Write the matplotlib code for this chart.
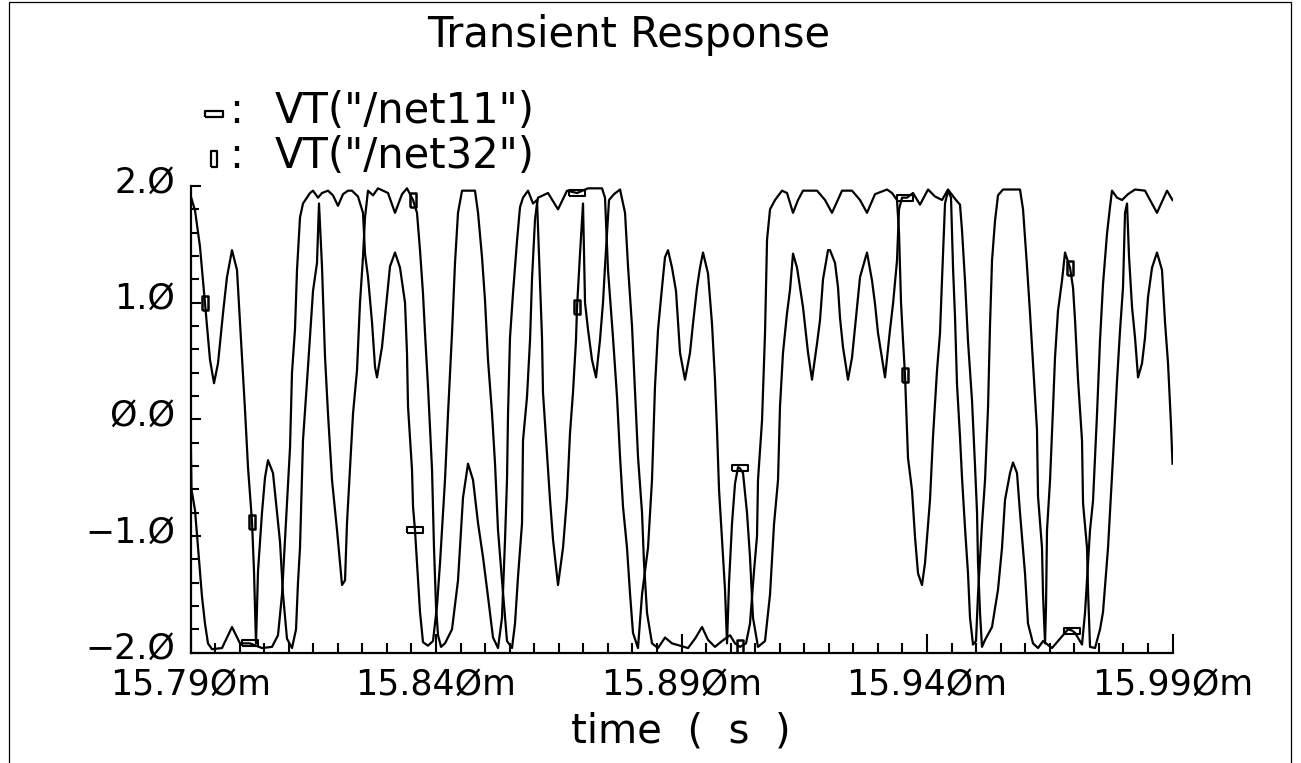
import matplotlib
matplotlib.use("Agg")
import matplotlib.pyplot as plt
import matplotlib.transforms as mtransforms
from matplotlib.lines import Line2D
from matplotlib.patches import Rectangle
from matplotlib.ticker import MultipleLocator, FixedLocator, FuncFormatter

# time in microseconds after 15.790 ms, voltage in V
net11_t = [0.0, 0.2, 0.92, 1.53, 2.34, 2.95, 3.56, 4.38, 6.42, 7.43, 8.45, 9.27, 10.08, 12.12, 14.56,
           16.60, 17.82, 18.64, 19.25, 20.27, 20.67, 21.28, 21.69, 22.30, 22.91, 24.34, 24.95, 25.97,
           26.78, 28.00, 29.02, 30.04, 31.06, 32.08, 32.89, 34.11, 35.13, 35.54, 36.15, 36.97, 37.58,
           37.98, 39.00, 40.02, 40.63, 41.65, 42.67, 43.69, 44.09, 44.30, 45.11, 45.32, 45.72, 46.13,
           46.74, 47.35, 48.37, 49.39, 50.20, 50.82, 51.83, 52.45, 53.26, 53.87, 54.48, 55.30, 57.94,
           58.56, 59.37, 59.98, 60.59, 61.41, 62.02, 62.63, 63.44, 64.46, 65.48, 66.09, 66.70, 67.52,
           67.72, 68.53, 69.15, 69.55, 70.16, 70.57, 70.78, 72.81, 74.85, 76.68, 78.72, 80.96, 83.81,
           84.42, 85.03, 86.05, 86.87, 87.48, 88.09, 88.90, 89.51, 90.12, 91.14, 91.96, 93.18, 93.99,
           94.60, 95.22, 96.03, 96.64, 97.25, 98.07, 98.88, 99.70, 100.71, 101.73, 102.34, 103.16,
           103.77, 104.38, 105.40, 106.21, 106.82, 107.23, 107.64, 108.25, 108.86, 109.27, 109.68,
           110.29, 110.90, 111.51, 111.92, 112.53, 113.34, 113.95, 114.56, 115.58, 117.01, 118.03,
           118.84, 119.66, 120.06, 120.67, 121.49, 122.10, 122.71, 123.53, 124.14, 124.75, 125.77,
           126.58, 127.60, 128.21, 128.82, 129.84, 130.25, 131.27, 131.88, 132.28, 132.89, 133.91,
           134.73, 135.75, 136.36, 137.78, 138.80, 139.41, 140.02, 141.45, 142.47, 143.08, 143.89,
           144.30, 144.91, 145.52, 145.93, 147.15, 148.58, 150.21, 151.63, 153.06, 154.28, 155.71,
           156.72, 157.13, 157.74, 158.35, 159.17, 159.78, 160.19, 160.39, 160.80, 161.20, 161.82,
           163.24, 164.46, 165.28, 165.89, 166.91, 167.52, 168.33, 168.94, 169.96, 170.57, 171.59,
           172.61, 173.63, 175.46, 177.09, 178.72, 179.54, 180.15, 181.57, 182.18, 183.20, 183.81,
           184.63, 185.24, 185.85, 186.66, 187.27, 187.68, 188.70, 189.72, 190.94, 192.37, 194.40,
           196.84, 198.88, 200.0]
net11_v = [0.00, -0.60, -0.78, -1.10, -1.52, -1.75, -1.92, -1.97, -1.96, -1.87, -1.78, -1.85, -1.92,
           -1.92, -1.96, -1.95, -1.85, -1.50, -1.03, -0.24, 0.40, 0.77, 1.28, 1.73, 1.85, 1.94, 1.96,
           1.90, 1.94, 1.96, 1.92, 1.83, 1.93, 1.96, 1.96, 1.91, 1.77, 1.42, 1.22, 0.83, 0.45, 0.36,
           0.62, 1.05, 1.31, 1.43, 1.30, 1.00, 0.57, 0.11, -0.43, -0.75, -0.95, -1.23, -1.65, -1.91,
           -1.94, -1.90, -1.60, -1.23, -0.52, 0.05, 0.74, 1.34, 1.77, 1.96, 1.96, 1.77, 1.39, 1.02,
           0.51, 0.05, -0.38, -0.95, -1.38, -1.90, -1.96, -1.75, -1.35, -0.89, -0.18, 0.19, 0.68,
           1.20, 1.71, 1.85, 1.90, 1.94, 1.80, 1.96, 1.94, 1.98, 1.98, 1.90, 1.28, 0.70, 0.19, -0.32,
           -0.75, -1.10, -1.49, -1.83, -1.96, -1.50, -1.10, -0.52, 0.28, 0.77, 1.13, 1.39, 1.45, 1.30,
           1.10, 0.57, 0.34, 0.57, 0.82, 1.13, 1.30, 1.43, 1.25, 0.82, 0.34, -0.09, -0.60, -1.03,
           -1.46, -1.92, -1.40, -0.89, -0.55, -0.41, -0.42, -0.46, -0.80, -1.18, -1.70, -1.95, -1.90,
           -1.50, -0.90, -0.52, 0.11, 0.57, 0.91, 1.11, 1.42, 1.30, 1.13, 0.96, 0.57, 0.34, 0.65, 0.85,
           1.20, 1.45, 1.45, 1.34, 1.13, 0.87, 0.62, 0.34, 0.53, 0.96, 1.22, 1.43, 1.19, 0.99, 0.74,
           0.36, 0.77, 0.99, 1.36, 1.80, 1.90, 1.90, 1.90, 1.94, 1.84, 1.97, 1.91, 1.88, 1.97, 1.89,
           1.84, 1.62, 1.19, 0.67, 0.16, -0.40, -0.80, -1.23, -1.66, -1.95, -1.89, -1.78, -1.46, -1.10,
           -0.69, -0.46, -0.37, -0.46, -0.80, -1.32, -1.75, -1.92, -1.96, -1.90, -1.96, -1.88, -1.80,
           -1.81, -1.83, -1.93, -1.66, -0.95, -0.70, 0.05, 0.68, 1.16, 1.59, 1.82, 1.96, 1.90, 1.88,
           1.93, 1.97, 1.96, 1.77, 1.96, 1.88]

net32_t = [0.0, 0.92, 1.93, 2.95, 3.97, 4.79, 5.60, 6.62, 7.43, 8.45, 9.47, 10.08, 11.10, 11.71, 12.53,
           12.93, 13.34, 13.75, 14.56, 15.17, 15.78, 16.80, 17.62, 18.23, 18.84, 19.65, 20.67, 21.49,
           21.89, 22.30, 22.91, 23.93, 24.95, 25.76, 26.17, 26.78, 27.39, 28.00, 28.82, 29.84, 30.86,
           31.47, 31.87, 32.49, 33.10, 33.91, 34.52, 35.13, 35.54, 36.15, 37.17, 38.19, 40.22, 41.65,
           43.08, 44.09, 45.32, 46.13, 46.74, 47.35, 47.76, 48.37, 49.19, 49.59, 50.00, 50.41, 51.02,
           51.83, 53.26, 54.48, 55.50, 56.52, 57.54, 58.56, 59.57, 60.59, 61.61, 62.63, 63.44, 64.05,
           64.46, 64.67, 65.07, 65.68, 66.50, 67.11, 67.72, 68.74, 69.76, 70.57, 70.98, 71.59, 71.79,
           72.61, 73.22, 73.83, 74.85, 75.87, 76.68, 77.29, 77.90, 78.51, 78.72, 79.33, 79.94, 80.35,
           80.96, 81.77, 82.59, 83.40, 84.01, 84.42, 84.83, 85.24, 86.25, 87.48, 88.50, 89.11, 89.92,
           90.53, 91.14, 91.96, 92.36, 92.98, 93.99, 95.22, 96.64, 98.07, 101.33, 102.75, 104.18,
           105.40, 106.82, 108.25, 109.88, 110.90, 111.92, 113.14, 113.95, 114.77, 115.38, 115.58,
           116.40, 117.01, 117.42, 118.03, 119.05, 120.47, 121.49, 122.71, 123.73, 124.75, 127.60,
           129.23, 130.65, 132.69, 134.73, 136.36, 137.78, 139.41, 141.86, 142.87, 143.89, 144.30,
           144.71, 145.11, 145.52, 146.13, 146.95, 147.56, 148.17, 148.98, 149.60, 150.61, 151.22,
           152.04, 152.65, 153.06, 153.67, 154.28, 154.89, 155.30, 155.71, 156.11, 156.72, 157.13,
           157.74, 158.35, 158.76, 159.37, 159.98, 160.39, 161.20, 161.82, 162.43, 162.83, 163.24,
           163.85, 164.46, 165.48, 168.94, 169.56, 170.37, 170.98, 171.59, 172.40, 172.61, 173.42,
           173.63, 174.04, 174.24, 174.44, 175.06, 175.67, 176.07, 176.68, 177.50, 178.11, 179.13,
           179.74, 180.15, 180.76, 181.57, 181.78, 182.59, 182.79, 183.20, 184.22, 185.24, 185.85,
           186.87, 187.88, 188.70, 189.31, 189.92, 190.33, 190.74, 191.14, 191.76, 192.37, 192.98,
           193.79, 194.40, 195.02, 195.83, 196.84, 197.86, 198.48, 199.09, 199.70, 200.0]
net32_v = [1.92, 1.79, 1.48, 1.00, 0.51, 0.31, 0.48, 0.91, 1.22, 1.45, 1.28, 0.83, 0.08, -0.41, -0.88,
           -1.30, -1.92, -1.30, -0.80, -0.50, -0.35, -0.46, -0.80, -1.05, -1.50, -1.88, -1.96, -1.80,
           -1.40, -1.10, -0.18, 0.45, 1.10, 1.34, 1.85, 1.31, 0.54, 0.05, -0.52, -0.95, -1.42, -1.38,
           -0.89, -0.41, 0.05, 0.42, 1.00, 1.39, 1.73, 1.96, 1.92, 1.98, 1.94, 1.77, 1.93, 1.98, 1.88,
           1.77, 1.45, 1.08, 0.74, 0.28, -0.43, -1.10, -1.60, -1.85, -1.95, -1.92, -1.80, -1.38, -0.67,
           -0.38, -0.52, -0.89, -1.18, -1.52, -1.87, -1.96, -1.70, -1.04, -0.52, 0.05, 0.70, 1.08,
           1.53, 1.82, 1.90, 1.96, 1.85, 1.88, 1.40, 0.70, 0.23, -0.29, -0.69, -1.03, -1.42, -1.10,
           -0.67, -0.12, 0.23, 0.68, 0.96, 1.42, 1.85, 1.00, 0.77, 0.51, 0.36, 0.68, 1.00, 1.31, 1.60,
           1.88, 1.93, 1.97, 1.77, 1.31, 0.80, 0.23, -0.32, -0.80, -1.23, -1.66, -1.92, -1.96, -1.87,
           -1.92, -1.96, -1.88, -1.78, -1.89, -1.95, -1.90, -1.85, -1.92, -1.95, -1.92, -1.75, -1.30,
           -1.00, -0.52, -0.01, 0.74, 1.54, 1.80, 1.88, 1.96, 1.94, 1.77, 1.88, 1.96, 1.96, 1.88, 1.77,
           1.96, 1.96, 1.88, 1.77, 1.93, 1.97, 1.94, 1.88, 1.60, 1.00, 0.68, 0.38, -0.33, -0.61, -1.01,
           -1.32, -1.42, -1.23, -0.69, -0.15, 0.42, 0.74, 1.20, 1.85, 1.96, 1.90, 1.30, 0.87, 0.30,
           -0.15, -0.50, -0.93, -1.32, -1.70, -1.93, -1.90, -1.50, -0.90, -0.52, 0.10, 0.80, 1.36,
           1.70, 1.92, 1.97, 1.97, 1.80, 1.31, 0.91, 0.48, -0.09, -0.66, -1.10, -1.50, -1.92, -1.60,
           -0.95, -0.52, 0.10, 0.53, 0.93, 1.19, 1.43, 1.30, 1.13, 0.85, 0.34, -0.18, -0.72, -1.10,
           -1.46, -1.95, -1.96, -1.80, -1.65, -1.10, -0.33, 0.33, 0.76, 1.13, 1.77, 1.85, 1.40, 0.96,
           0.70, 0.36, 0.48, 0.70, 1.05, 1.30, 1.43, 1.28, 0.83, 0.48, -0.05, -0.38]

# plot marks along each trace (times, same units)
net11_marks = [12.12, 45.72, 78.72, 111.92, 145.52, 179.54]
net32_marks = [2.95, 12.53, 45.32, 78.72, 111.92, 145.52, 179.13]

t_start = 15.790  # ms
x_major = [15.790, 15.840, 15.890, 15.940, 15.990]
y_major = [-2.0, -1.0, 0.0, 1.0, 2.0]

wide = [(-1, -0.38), (1, -0.38), (1, 0.38), (-1, 0.38), (-1, -0.38)]
tall = [(-0.38, -1), (0.38, -1), (0.38, 1), (-0.38, 1), (-0.38, -1)]

word_font = ['DejaVu Sans']

fig = plt.figure(figsize=(13.01, 7.63), dpi=100)
ax = fig.add_axes([0.14643, 0.14456, 0.75480, 0.61166])

x11 = [t_start + t / 1000 for t in net11_t]
x32 = [t_start + t / 1000 for t in net32_t]
ax.plot(x11, net11_v, color='black', lw=1.6,
        marker=wide, markevery=[net11_t.index(m) for m in net11_marks],
        ms=12, mfc='none', mec='black', mew=1.5)
ax.plot(x32, net32_v, color='black', lw=1.6,
        marker=tall, markevery=[net32_t.index(m) for m in net32_marks],
        ms=10, mfc='none', mec='black', mew=1.8)

ax.set_xlim(15.790, 15.990)
ax.set_ylim(-2.0, 2.0)
for s in ['top', 'right']:
    ax.spines[s].set_visible(False)
for s in ['left', 'bottom']:
    ax.spines[s].set_linewidth(1.6)

ax.xaxis.set_major_locator(FixedLocator(x_major))
ax.xaxis.set_minor_locator(MultipleLocator(0.005))
ax.yaxis.set_major_locator(FixedLocator(y_major))
ax.yaxis.set_minor_locator(MultipleLocator(0.2))
ax.xaxis.set_major_formatter(FuncFormatter(lambda v, p: f"{v:.3f}m".replace("0", "Ø")))
ax.yaxis.set_major_formatter(FuncFormatter(lambda v, p: f"{v:.1f}".replace("0", "Ø").replace("-", "−")))
ax.tick_params(axis='x', which='major', direction='in', length=14, width=1.5, pad=11)
ax.tick_params(axis='x', which='minor', direction='in', length=7, width=1.5)
ax.tick_params(axis='y', which='major', direction='in', length=7, width=1.5, pad=11)
ax.tick_params(axis='y', which='minor', direction='in', length=6, width=1.5)

# value labels sit a little above their ticks, as in the original
lift = mtransforms.ScaledTranslation(0, 7 / 100, fig.dpi_scale_trans)
for lab in ax.get_yticklabels():
    lab.set_transform(lab.get_transform() + lift)
for lab in ax.get_xticklabels() + ax.get_yticklabels():
    lab.set_family(word_font)
    lab.set_fontsize(25)

fig.text(0.4835, 0.938, 'Transient Response', ha='center', va='baseline',
         family=word_font, fontsize=30)
fig.text(0.5235, 0.0275, 'time  (  s  )', ha='center', va='baseline', family=word_font, fontsize=29)

# legend
for y_px, mk, ms, label in [(123, wide, 13, 'VT("/net11")'), (168, tall, 11, 'VT("/net32")')]:
    yf = 1 - y_px / 763
    fig.add_artist(Line2D([214 / 1301], [yf + 9 / 763], marker=mk, ms=ms, mfc='none',
                          mec='black', mew=1.6, ls='none', transform=fig.transFigure))
    fig.text(229 / 1301, yf, ':', ha='left', va='baseline', family=word_font, fontsize=30)
    fig.text(275 / 1301, yf, label, ha='left', va='baseline', family=word_font, fontsize=30)

# window frame (left, top, right edges)
fig.add_artist(Rectangle((9 / 1301, -0.05), 1282 / 1301, 1.05 - 1.5 / 763, transform=fig.transFigure,
                         fill=False, ec='black', lw=0.9))

fig.savefig('out.png', dpi=100)
